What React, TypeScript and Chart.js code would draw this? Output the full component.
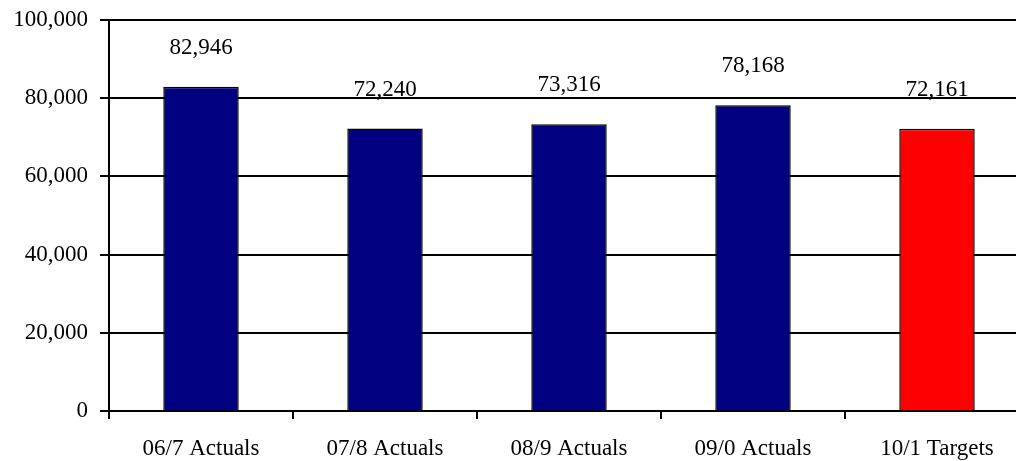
import React, { useEffect, useRef } from "react";
import { Chart, registerables } from "chart.js";

Chart.register(...registerables);

const categories = ["06/7 Actuals", "07/8 Actuals", "08/9 Actuals", "09/0 Actuals", "10/1 Targets"];
const values = [82946, 72240, 73316, 78168, 72161];
const barColors = ["#000080", "#000080", "#000080", "#000080", "#FF0000"];
const yTicks = [0, 20000, 40000, 60000, 80000, 100000];

const FONT = "'Liberation Serif', 'Times New Roman', serif";

const labelPlugin = {
  id: "valueLabels",
  afterDatasetsDraw(chart: any) {
    const ctx = chart.ctx;
    const meta = chart.getDatasetMeta(0);
    ctx.save();
    ctx.font = `23px ${FONT}`;
    ctx.fillStyle = "#000";
    ctx.textAlign = "center";
    ctx.textBaseline = "alphabetic";
    meta.data.forEach((el: any, i: number) => {
      const v = values[i];
      ctx.fillText(v.toLocaleString("en-US"), el.x, el.y - 33);
    });
    ctx.restore();
  },
};

export default function App() {
  const ref = useRef<HTMLCanvasElement | null>(null);
  useEffect(() => {
    if (!ref.current) return;
    const chart = new Chart(ref.current, {
      type: "bar",
      data: {
        labels: categories,
        datasets: [
          {
            data: values,
            backgroundColor: barColors,
            borderColor: "#000",
            borderWidth: 1.5,
            categoryPercentage: 1,
            barPercentage: 0.41,
          },
        ],
      },
      options: {
        animation: false,
        responsive: false,
        maintainAspectRatio: false,
        layout: { padding: { top: 20, right: 1, left: 0, bottom: 0 } },
        plugins: { legend: { display: false }, tooltip: { enabled: false } },
        scales: {
          x: {
            offset: true,
            grid: {
              offset: true,
              drawOnChartArea: false,
              drawTicks: true,
              tickLength: 8,
              color: "#000",
              lineWidth: 2,
            },
            border: { color: "#000", width: 2 },
            ticks: {
              color: "#000",
              font: { family: FONT, size: 23 },
              padding: 16,
              maxRotation: 0,
              autoSkip: false,
            },
            afterFit: (s: any) => {
              s.height = 50;
              s.paddingLeft = 0;
              s.paddingRight = 0;
            },
          },
          y: {
            min: 0,
            max: 100000,
            afterBuildTicks: (s: any) => {
              s.ticks = yTicks.map((v) => ({ value: v }));
            },
            grid: { color: "#000", lineWidth: 2, tickLength: 9, drawTicks: true },
            border: { color: "#000", width: 2 },
            ticks: {
              color: "#000",
              font: { family: FONT, size: 23 },
              padding: 12,
              callback: (v: any) => Number(v).toLocaleString("en-US"),
            },
            afterFit: (s: any) => {
              s.width = 109;
              s.paddingTop = 0;
              s.paddingBottom = 0;
            },
          },
        },
      },
      plugins: [labelPlugin],
    });
    return () => chart.destroy();
  }, []);
  return (
    <div
      style={{
        position: "fixed",
        left: 0,
        top: 0,
        width: 1016,
        height: 461,
        overflow: "hidden",
        background: "#fff",
      }}
    >
      <canvas ref={ref} width={1030} height={461} style={{ display: "block" }} />
    </div>
  );
}
